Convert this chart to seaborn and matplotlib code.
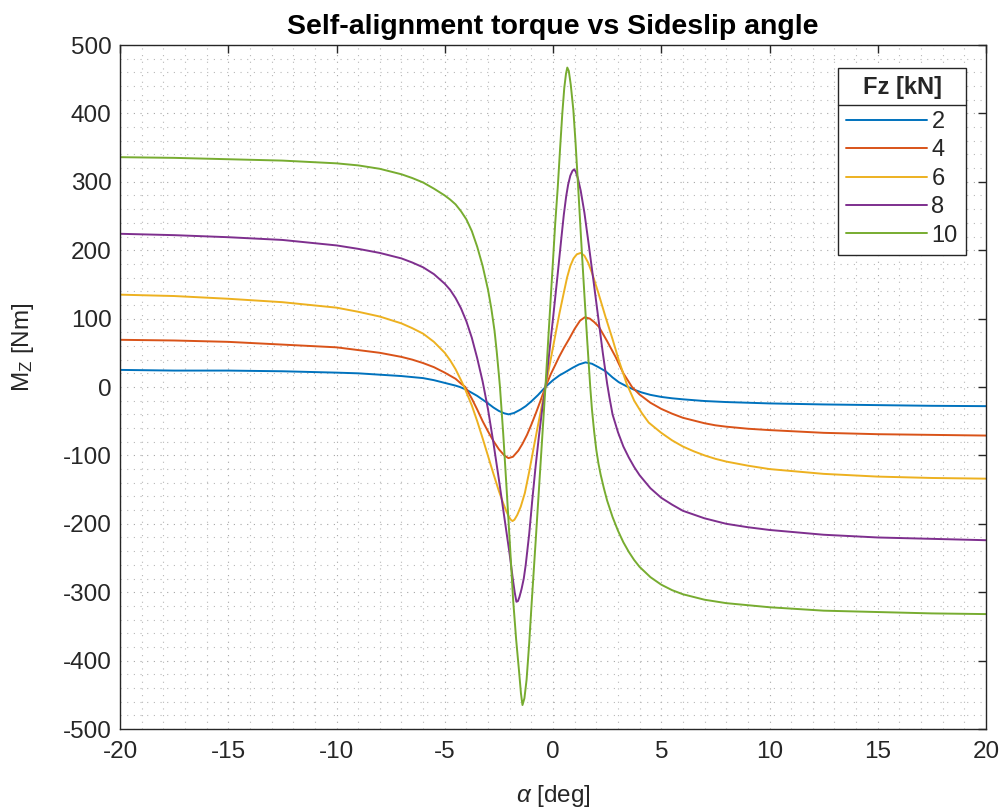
import matplotlib
matplotlib.use("Agg")
import numpy as np
import pandas as pd
import matplotlib.pyplot as plt
import seaborn as sns
from matplotlib.lines import Line2D
from matplotlib.ticker import MultipleLocator

# ---------------- data ----------------
fz_labels = ["2", "4", "6", "8", "10"]
line_colors = ["#0072BD", "#D95319", "#EDB120", "#7E2F8E", "#77AC30"]
x_ticks = [-20, -15, -10, -5, 0, 5, 10, 15, 20]
y_ticks = [-500, -400, -300, -200, -100, 0, 100, 200, 300, 400, 500]

alpha_2 = [-20, -17.5, -15, -12.5, -10, -9, -8, -7, -6, -5.5, -5, -4.5, -4.3, -4, -3.5,
           -3, -2.75, -2.5, -2.25, -2.05, -1.8, -1.5, -1.26, -1, -0.7, -0.35, 0, 0.3, 0.58,
           0.9, 1.2, 1.5, 1.8, 2.1, 2.43, 2.75, 3.04, 3.4, 3.75, 4.1, 4.5, 5, 5.5, 6, 7,
           8, 10, 12.5, 15, 17.5, 20]
mz_2 = [25, 24, 24, 23, 21, 20, 18, 16, 13, 10, 6, 2, 0, -4, -13,
        -24, -30, -35, -38.5, -40, -38, -33, -28, -21, -12, 0, 10, 17, 22,
        28, 33, 36, 34, 29, 23, 14, 7, 1, -4, -8, -11.5, -14.5, -16.5, -18, -20.5,
        -22, -24, -25.5, -26.5, -27.5, -28]

alpha_4 = [-20, -17.5, -15, -12.5, -10, -9, -8, -7, -6.5, -6, -5.5, -5, -4.5, -4.25, -4.05,
           -3.75, -3.5, -3.25, -3, -2.75, -2.5, -2.25, -2.06, -1.85, -1.6, -1.41, -1.2, -1,
           -0.8, -0.6, -0.35, -0.1, 0.1, 0.28, 0.5, 0.74, 1, 1.25, 1.47, 1.7, 1.9, 2.12,
           2.5, 2.89, 3.25, 3.65, 4, 4.5, 5, 5.5, 6, 6.5, 7, 7.5, 8, 9, 10, 12.5, 15,
           17.5, 20]
mz_4 = [69, 68, 66, 62, 58, 54, 50, 44, 40, 35, 29, 21, 12, 5, 0,
        -17, -33, -50, -65, -79, -91, -100, -104, -102, -93, -83, -70, -55,
        -39, -22, 0, 19, 32, 44, 57, 70, 85, 97, 102, 100, 95, 88,
        67, 44, 20, 0, -11, -23, -32, -39, -45, -49, -53, -56, -58, -61, -63, -67, -69,
        -70, -71]

alpha_6 = [-20, -17.5, -15, -12.5, -10, -9, -8, -7, -6.5, -6, -5.5, -5, -4.75, -4.5, -4.25,
           -4.1, -3.75, -3.5, -3.25, -3, -2.75, -2.5, -2.3, -2.15, -2.05, -1.95, -1.87,
           -1.78, -1.65, -1.49, -1.3, -1.1, -0.9, -0.7, -0.5, -0.35, -0.15, 0, 0.15, 0.3,
           0.5, 0.65, 0.8, 0.95, 1.1, 1.28, 1.45, 1.62, 1.81, 2.1, 2.43, 2.75, 3.04, 3.4,
           3.75, 4.1, 4.42, 5, 5.5, 6, 6.5, 7, 7.5, 8, 9, 10, 12.5, 15, 17.5, 20]
mz_6 = [135, 133, 129, 124, 116, 110, 103, 93, 86, 78, 66, 50, 39, 26, 10,
        0, -27, -50, -75, -101, -127, -152, -170, -182, -189, -194, -196,
        -194, -187, -175, -155, -124, -90, -57, -25, 0, 33, 58, 83, 108,
        138, 160, 177, 188, 194, 196, 192, 182, 166, 137, 102, 70, 39, 5,
        -20, -38, -52, -67, -78, -87, -94, -100, -105, -109, -115, -120, -127, -131, -133, -134]

alpha_8 = [-20, -17.5, -15, -12.5, -10, -9, -8, -7, -6.5, -6, -5.5, -5, -4.75, -4.5, -4.25,
           -4, -3.75, -3.5, -3.25, -3.2, -3, -2.75, -2.5, -2.25, -2, -1.85, -1.77, -1.69,
           -1.62, -1.55, -1.45, -1.35, -1.26, -1.1, -0.95, -0.8, -0.65, -0.5, -0.35, -0.2,
           0, 0.2, 0.4, 0.5, 0.61, 0.7, 0.8, 0.9, 0.97, 1.05, 1.15, 1.28, 1.45, 1.66, 1.9,
           2.12, 2.3, 2.5, 2.6, 2.75, 3, 3.25, 3.5, 3.75, 4, 4.5, 5, 5.5, 6, 7, 8, 9, 10,
           12.5, 15, 17.5, 20]
mz_8 = [224, 222, 219, 215, 207, 202, 196, 188, 182, 175, 165, 151, 142, 130, 115,
        96, 72, 42, 8, 0, -33, -82, -135, -190, -245, -282, -300, -314,
        -313, -307, -295, -280, -260, -215, -163, -115, -72, -33, 0, 42,
        100, 160, 222, 252, 279, 296, 309, 316, 318, 315, 305, 287, 255, 206, 148,
        94, 50, 5, -14, -40, -66, -87, -103, -117, -129, -148, -162, -172, -181, -192, -200,
        -205, -209, -216, -220, -222, -224]

alpha_10 = [-20, -17.5, -15, -12.5, -10, -9, -8, -7, -6.5, -6, -5.5, -5, -4.75, -4.5, -4.25,
            -4, -3.75, -3.5, -3.25, -3, -2.85, -2.7, -2.6, -2.5, -2.45, -2.3, -2.15, -2,
            -1.84, -1.7, -1.57, -1.48, -1.41, -1.32, -1.22, -1.1, -0.99, -0.8, -0.65, -0.5,
            -0.35, -0.2, 0, 0.1, 0.22, 0.33, 0.43, 0.52, 0.6, 0.66, 0.73, 0.82, 0.94, 1.04,
            1.17, 1.3, 1.45, 1.58, 1.72, 1.8, 1.9, 2, 2.1, 2.2, 2.35, 2.5, 2.75, 3, 3.25,
            3.5, 3.75, 4, 4.5, 5, 5.5, 6, 7, 8, 10, 12.5, 15, 17.5, 20]
mz_10 = [336, 335, 333, 331, 327, 324, 319, 311, 305.5, 299, 290, 280, 274, 267, 257,
         245, 228, 205, 177, 142, 115, 82, 52, 18, 0, -68, -145, -225,
         -312, -370, -415, -448, -465, -455, -428, -375, -318, -225, -150, -75,
         0, 80, 185, 238, 292, 350, 400, 437, 458, 467, 462, 442, 405, 358,
         288, 215, 135, 68, 0, -33, -65, -92, -112, -128, -148, -166, -190, -210, -227,
         -241, -253, -263, -278, -289, -297, -303, -311, -316, -322, -327, -329, -331, -332]

series_alpha = [alpha_2, alpha_4, alpha_6, alpha_8, alpha_10]
series_mz = [mz_2, mz_4, mz_6, mz_8, mz_10]

frames = []
for lab, a, m in zip(fz_labels, series_alpha, series_mz):
    frames.append(pd.DataFrame({"alpha": a, "Mz": m, "Fz": lab}))
df = pd.concat(frames, ignore_index=True)

# ---------------- style ----------------
sns.set_theme(style="white")
plt.rcParams["font.family"] = ["Liberation Sans", "DejaVu Sans"]
plt.rcParams["mathtext.fontset"] = "custom"
plt.rcParams["mathtext.rm"] = "Liberation Sans"
plt.rcParams["mathtext.it"] = "Liberation Sans:italic"
plt.rcParams["mathtext.bf"] = "Liberation Sans:bold"
plt.rcParams["axes.unicode_minus"] = False

txt = "#262626"
W, H = 1005, 808
fig = plt.figure(figsize=(W / 100, H / 100), dpi=100)
fig.patch.set_facecolor("white")
ax = fig.add_axes([120 / W, 1 - 729 / H, 866 / W, 684 / H])
ax.set_facecolor("white")

sns.lineplot(data=df, x="alpha", y="Mz", hue="Fz", hue_order=fz_labels,
             palette=line_colors, estimator=None, linewidth=1.4, legend=False, ax=ax)

ax.set_xlim(-20, 20)
ax.set_ylim(-500, 500)
ax.set_xticks(x_ticks)
ax.set_yticks(y_ticks)
ax.xaxis.set_minor_locator(MultipleLocator(1))
ax.yaxis.set_minor_locator(MultipleLocator(20))

ax.grid(which="major", color="#a6a6a6", linestyle=(0, (1, 5)), linewidth=0.8)
ax.grid(which="minor", color="#b8b8b8", linestyle=(0, (1, 5)), linewidth=0.8)
ax.set_axisbelow(True)

for s in ax.spines.values():
    s.set_visible(True)
    s.set_color(txt)
    s.set_linewidth(1.0)

ax.tick_params(which="major", direction="in", length=6, width=1, top=True, right=True,
               color=txt, labelcolor=txt, labelsize=17.5)
ax.tick_params(axis="x", which="major", pad=9)
ax.tick_params(axis="y", which="major", pad=6)
ax.tick_params(which="minor", length=0)

ax.set_title("Self-alignment torque vs Sideslip angle", fontsize=20.5, fontweight="bold",
             color="black", pad=8)
ax.set_xlabel(r"$\alpha$ [deg]", fontsize=17.5, color=txt)
ax.set_ylabel(r"M$_\mathregular{Z}$ [Nm]", fontsize=17.5, color=txt)
ax.xaxis.set_label_coords(0.5, -0.079)
ax.yaxis.set_label_coords(-0.097, 0.558)

handles = [Line2D([0], [0], color=c, linewidth=1.4) for c in line_colors]
leg = ax.legend(handles, fz_labels, title="Fz [kN]", loc="upper right",
                bbox_to_anchor=(966 / W, 1 - 68 / H), bbox_transform=fig.transFigure,
                borderaxespad=0, frameon=True, fancybox=False, framealpha=1,
                edgecolor=txt, fontsize=17, handlelength=3.4, handletextpad=0.2,
                labelspacing=0.27, borderpad=0.35,
                title_fontproperties={"weight": "bold", "size": 17})
leg.get_frame().set_linewidth(1.0)
leg._legend_box.sep = 8.5
for t in leg.get_texts():
    t.set_color(txt)

fig.canvas.draw()
fb = leg.get_frame().get_window_extent()
tb = leg.get_title().get_window_extent()
hb = leg._legend_handle_box.get_window_extent()
y_sep = 0.5 * (tb.y0 + hb.y1)
inv = fig.transFigure.inverted()
x0f, yf = inv.transform((fb.x0, y_sep))
x1f, _ = inv.transform((fb.x1, y_sep))
fig.add_artist(Line2D([x0f, x1f], [yf, yf], transform=fig.transFigure,
                      color=txt, linewidth=1.0, zorder=10))

fig.savefig("out.png", dpi=100)
